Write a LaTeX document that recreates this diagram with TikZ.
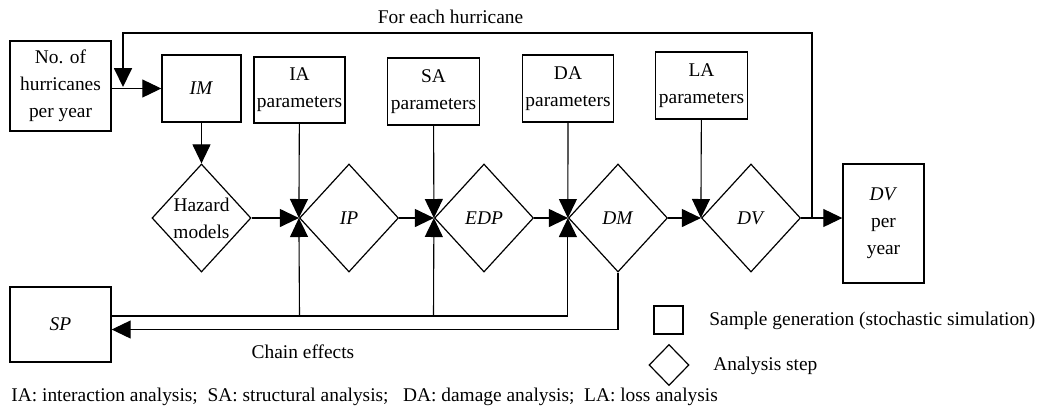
\documentclass[tikz,border=0pt]{standalone}
\usepackage{fontspec}
\setmainfont{Liberation Serif}
\usetikzlibrary{arrows.meta,positioning,calc,shapes.geometric}
\tikzset{
  >={Triangle[length=9.5pt,width=9pt]},
  % boxes and steps
  sg/.style={draw,line width=0.7pt,align=center,inner sep=0pt},
  an/.style={diamond,draw,line width=0.6pt,align=center,inner sep=0pt,
             minimum width=49.5pt,minimum height=54pt},
  tx/.style={inner sep=1pt,align=center},
  % connectors
  ln/.style={draw,line width=0.55pt},
  lnb/.style={draw,line width=0.9pt},
}

\begin{document}
\begin{tikzpicture}[x=0.5pt,y=-0.5pt,font=\fontsize{9.7}{13.5}\selectfont]
\useasboundingbox (0,0) rectangle (1038,409);
  % sample generation
  \node[sg,minimum width=50.5pt,minimum height=45pt] (nhur) at (60.5,86) {No. of\\hurricanes\\per year};
  \node[sg,minimum width=39.5pt,minimum height=33.5pt] (im) at (201.5,88.5) {\textit{IM}};
  \node[sg,minimum width=45.5pt,minimum height=33pt] (iapar) at (299.5,90) {IA\\parameters};
  \node[sg,minimum width=46pt,minimum height=33.5pt] (sapar) at (433.5,91.5) {SA\\parameters};
  \node[sg,minimum width=45.5pt,minimum height=33.5pt] (dapar) at (568,88.5) {DA\\parameters};
  \node[sg,minimum width=46pt,minimum height=33.5pt] (lapar) at (701.5,85.5) {LA\\parameters};
  \node[sg,minimum width=50.5pt,minimum height=37.5pt] (sp) at (60.5,324.5) {\textit{SP}};
  \node[sg,minimum width=40.5pt,minimum height=59.5pt] (dvpy) at (883.5,223.5) {\textit{DV}\\per\\year};
  % analysis steps
  \node[an] (haz) at (201.5,218) {Hazard\\models};
  \node[an] (ip) at (349,218) {\textit{IP}};
  \node[an] (edp) at (484,218) {\textit{EDP}};
  \node[an] (dm) at (618,218) {\textit{DM}};
  \node[an] (dv) at (751,218) {\textit{DV}};
  % main chain
  \draw[ln,->] (nhur.east |- im.west) -- (im.west);
  \draw[ln,->] (im) -- (haz);
  \draw[ln,->] (haz) -- (ip.west);
  \draw[ln,->] (ip) -- (edp.west);
  \draw[ln,->] (edp) -- (dm.west);
  \draw[ln,->] (dm) -- (dv.west);
  \draw[ln,->] (dv.east) -- (dv.east -| dvpy.west);
  \draw[ln,->] (iapar) -- (ip.west);
  \draw[ln,->] (sapar) -- (edp.west);
  \draw[ln,->] (dapar) -- (dm.west);
  \draw[ln,->] (lapar) -- (dv.west);
  % loop over hurricanes
  \coordinate (split) at (812,218);
  \coordinate (join) at (123,87);
  \draw[lnb,->] (split) -- ++(0,-185) -| (join);
  \node[tx] (forall) at (450.5,17) {For each hurricane};
  % feedback from below
  \coordinate (fb) at (dm.west |- 0,316);
  \draw[lnb] (sp.east |- fb) -- (fb);
  \draw[ln,->] (fb) -- (dm.west);
  \draw[ln,->] (iapar.south |- fb) -- (ip.west);
  \draw[ln,->] (sapar.south |- fb) -- (edp.west);
  \coordinate (ceL) at (0,329.5);
  \draw[ln,->] (dm.south) |- (sp.east |- ceL);
  \node[tx] (chain) at (303,352) {Chain effects};
  % legend
  \node[sg,minimum width=14.5pt,minimum height=14pt] (lgbox) at (668.5,320) {};
  \node[tx,anchor=west] (lgboxtx) at (707,321) {Sample generation (stochastic simulation)};
  \node[an,line width=0.6pt,minimum width=20pt,minimum height=20.5pt] (lgstep) at (669,365) {};
  \node[tx,anchor=west] (lgsteptx) at (711,366) {Analysis step};
  \node[tx,anchor=west] (abbr) at (9,397) {IA: interaction analysis;\ \ SA: structural analysis;\ \ \ DA: damage analysis;\ \ LA: loss analysis};
\end{tikzpicture}
\end{document}
